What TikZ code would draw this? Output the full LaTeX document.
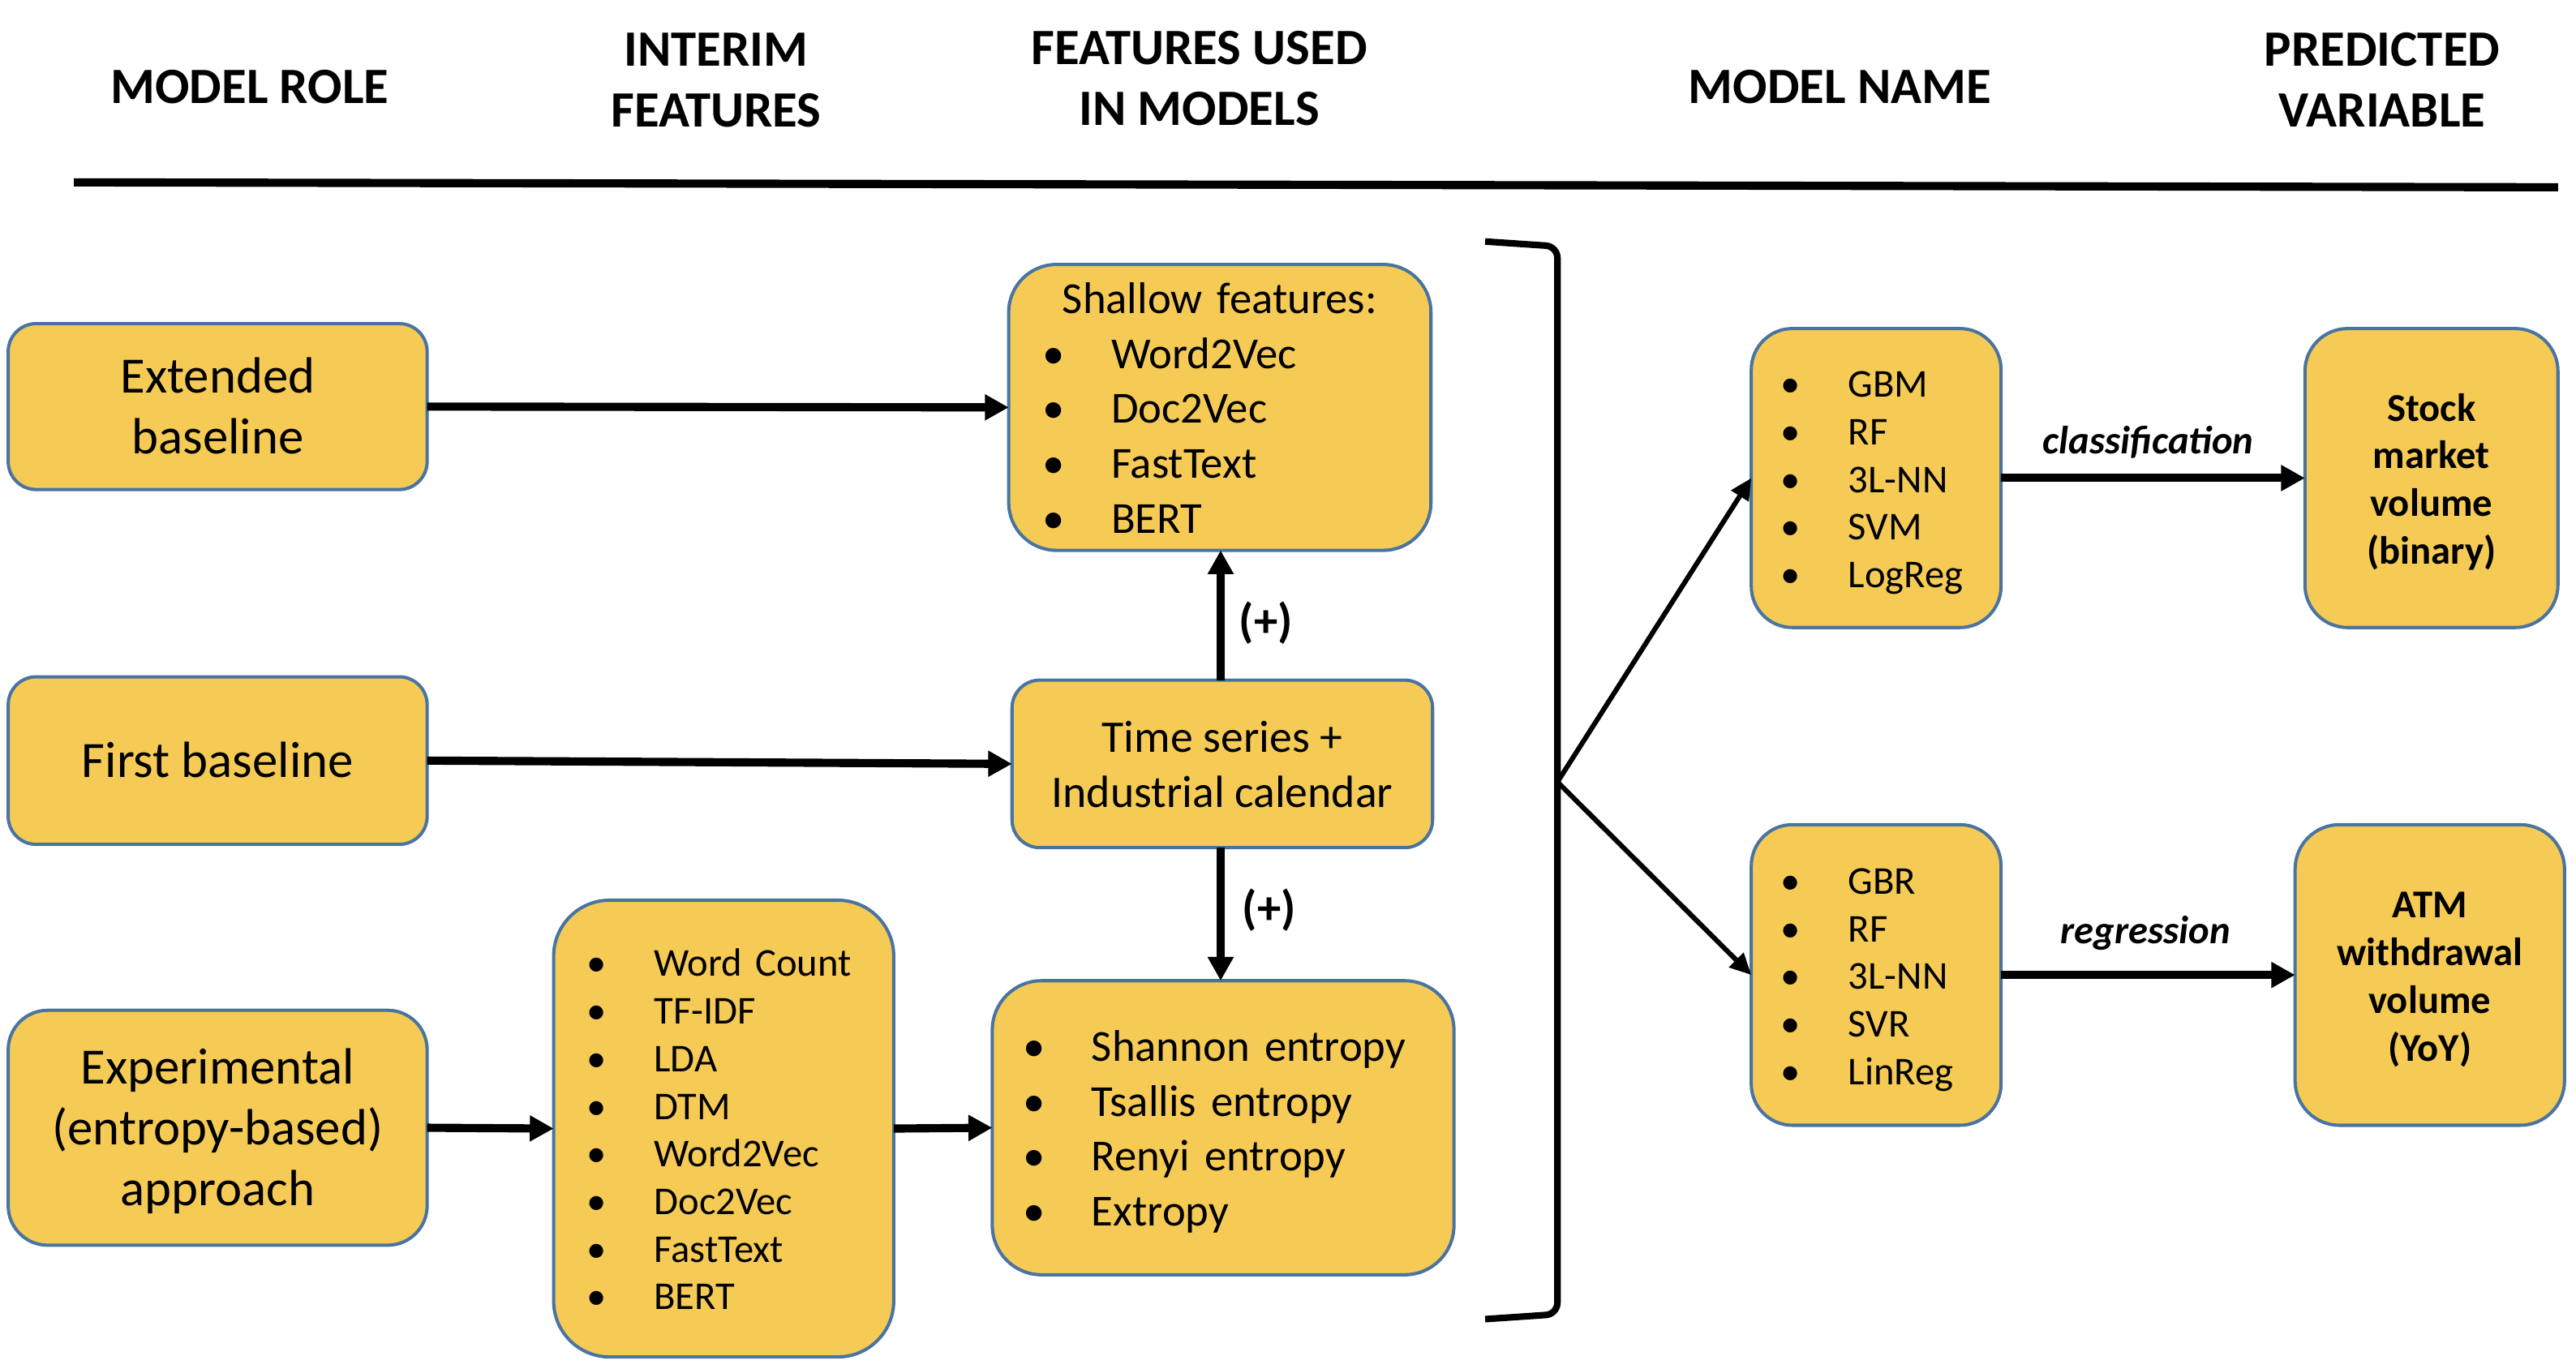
\documentclass[tikz,border=0pt]{standalone}
\usepackage{fontspec}
\setmainfont{Carlito}
\usetikzlibrary{arrows.meta}
\definecolor{boxfill}{HTML}{F6CB55}
\definecolor{boxline}{HTML}{4A74A0}
\newcommand\bul[2]{\strut\makebox[#1][l]{\makebox[0pt]{\textbullet}}\mbox{#2}}
\newcommand\tp{\rule{0pt}{\dimexpr0.7\baselineskip+6pt\relax}}
\tikzset{
  box/.style={draw=boxline, fill=boxfill, line width=2pt, inner sep=0pt, outer sep=0pt},
  bigtxt/.style={font=\fontsize{31}{37}\selectfont, align=center},
  midtxt/.style={font=\fontsize{27}{33.4}\selectfont},
  tstxt/.style={font=\fontsize{27.5}{33.4}\selectfont},
  smalltxt/.style={font=\fontsize{24}{29}\selectfont},
  interimtxt/.style={font=\fontsize{24}{29}\selectfont},
  boldtxt/.style={font=\fontsize{24}{29}\selectfont\bfseries, align=center},
  headtxt/.style={font=\fontsize{31}{37}\selectfont\bfseries, align=center, inner sep=0pt},
  arr/.style={line width=5pt, -{Triangle[length=14.5pt,width=15pt]}},
  diag/.style={line width=3pt, -{Triangle[length=13pt,width=12pt]}},
  lbl/.style={font=\fontsize{24}{29}\selectfont\bfseries\itshape, inner sep=0pt},
  plus/.style={font=\fontsize{29}{35}\selectfont\bfseries, inner sep=0pt},
}
\begin{document}
\begin{tikzpicture}[x=1pt,y=-1pt]
\useasboundingbox (0,0) rectangle (1568,833);

% headers
\node[headtxt] (h1) at (152,55.3) {\strut MODEL ROLE};
\node[headtxt] (h2) at (436,51.3) {\strut INTERIM\\\strut FEATURES};
\node[headtxt] (h3) at (730,50.5) {\strut FEATURES USED\\\strut IN MODELS};
\node[headtxt] (h4) at (1120,55.3) {\strut MODEL NAME};
\node[headtxt] (h5) at (1450,51.3) {\strut PREDICTED\\\strut VARIABLE};
\draw[line width=5pt] (45,111) -- (1557,114);

% left column
\node[box, bigtxt, minimum width=255pt, minimum height=101pt, rounded corners=17pt] (ext) at (132.5,247.5) {\tp\strut Extended\\\strut baseline};
\node[box, bigtxt, minimum width=255pt, minimum height=102pt, rounded corners=17pt] (fb) at (132.5,463) {\tp\strut First baseline};
\node[box, bigtxt, minimum width=255pt, minimum height=143pt, rounded corners=24pt] (exp) at (132.5,686.5) {\tp\strut Experimental\\\strut (entropy-based)\\\strut approach};

% interim
\node[box, interimtxt, align=left, minimum width=207pt, minimum height=278pt, rounded corners=34pt, text width=154.2pt, inner xsep=26.4pt] (interim) at (440.5,687)
 {\tp\bul{34.8pt}{Word Count}\\\bul{34.8pt}{TF-IDF}\\\bul{34.8pt}{LDA}\\\bul{34.8pt}{DTM}\\\bul{34.8pt}{Word2Vec}\\\bul{34.8pt}{Doc2Vec}\\\bul{34.8pt}{FastText}\\\bul{34.8pt}{BERT}};

% features used
\node[box, midtxt, align=left, minimum width=257pt, minimum height=174pt, rounded corners=29pt, text width=202.4pt, inner xsep=27.3pt] (shallow) at (742.5,248)
 {\tp\strut\makebox[\linewidth][c]{Shallow features:}\\\bul{35.2pt}{Word2Vec}\\\bul{35.2pt}{Doc2Vec}\\\bul{35.2pt}{FastText}\\\bul{35.2pt}{BERT}};
\node[box, tstxt, align=center, minimum width=256pt, minimum height=102pt, rounded corners=17pt] (ts) at (744,465) {\tp\strut Time series +\\\strut Industrial calendar};
\node[box, midtxt, align=left, minimum width=281pt, minimum height=179pt, rounded corners=30pt, text width=230.2pt, inner xsep=25.4pt] (ent) at (744.5,686.5)
 {\tp\bul{35.1pt}{Shannon entropy}\\\bul{35.1pt}{Tsallis entropy}\\\bul{35.1pt}{Renyi entropy}\\\bul{35.1pt}{Extropy}};

% models
\node[box, smalltxt, align=left, minimum width=152pt, minimum height=182pt, rounded corners=25pt, text width=104.4pt, inner xsep=23.8pt] (gbm) at (1142,291)
 {\tp\bul{35.2pt}{GBM}\\\bul{35.2pt}{RF}\\\bul{35.2pt}{3L-NN}\\\bul{35.2pt}{SVM}\\\bul{35.2pt}{LogReg}};
\node[box, smalltxt, align=left, minimum width=152pt, minimum height=183pt, rounded corners=25pt, text width=104.4pt, inner xsep=23.8pt] (gbr) at (1142,593.5)
 {\tp\bul{35.2pt}{GBR}\\\bul{35.2pt}{RF}\\\bul{35.2pt}{3L-NN}\\\bul{35.2pt}{SVR}\\\bul{35.2pt}{LinReg}};

% predicted
\node[box, boldtxt, minimum width=154pt, minimum height=182pt, rounded corners=26pt] (stock) at (1480,291) {\tp\strut Stock\\\strut market\\\strut volume\\\strut (binary)};
\node[box, boldtxt, minimum width=164pt, minimum height=183pt, rounded corners=27pt] (atm) at (1479,593.5) {\tp\strut ATM\\\strut withdrawal\\\strut volume\\\strut (YoY)};

% connectors
\draw[arr] (ext.east) -- (shallow.west);
\draw[arr] (fb.east) -- (ts.west);
\draw[arr] (exp.east) -- (interim.west);
\draw[arr] (interim.east) -- (ent.west);
\draw[arr] (743,414) coordinate (tsn) -- (tsn |- shallow.south);
\draw[arr] (743,516) coordinate (tss) -- (tss |- ent.north);
\node[plus] (p1) at (770.5,379) {(+)};
\node[plus] (p2) at (772.5,554) {(+)};

% bracket
\draw[line width=4pt, rounded corners=7pt] (904,147) -- (948,150) -- (948,800) -- (904,803);
\coordinate (apex) at (948,476);
\draw[diag] (apex) -- (gbm.west);
\draw[diag] (apex) -- (gbr.west);

\draw[arr] (gbm.east) -- (stock.west);
\draw[arr] (gbr.east) -- (atm.west);
\node[lbl, anchor=base] (cls) at (1307.5,276) {classification};
\node[lbl, anchor=base] (reg) at (1306,574.5) {regression};
\end{tikzpicture}
\end{document}
